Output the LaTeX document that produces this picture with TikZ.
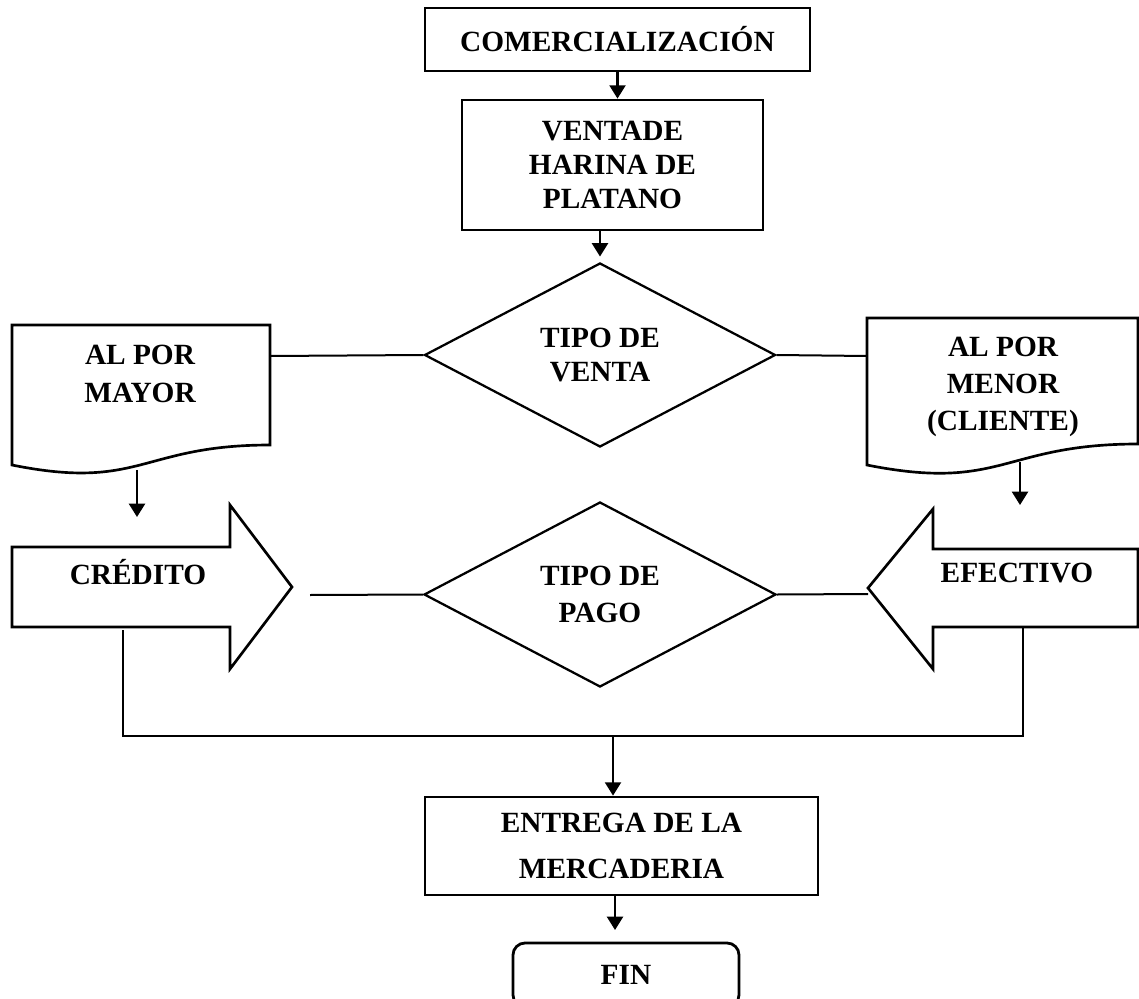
\documentclass[tikz,border=0pt]{standalone}
\usepackage{fontspec}
\setmainfont{Liberation Serif}
\usetikzlibrary{shapes.geometric,arrows.meta}
\begin{document}
\begin{tikzpicture}[x=0.75pt,y=-0.75pt,
  every node/.style={font=\bfseries\fontsize{22}{28}\selectfont, align=center},
  caja/.style={draw, line width=2.1pt, inner sep=0pt},
  rombo/.style={diamond, draw, line width=1.7pt, inner sep=0pt},
  forma/.style={draw, line width=2pt, line join=miter},
  flecha/.style={line width=1.7pt, -{Triangle[width=12pt,length=10pt]}},
  linea/.style={line width=1.5pt}]
\useasboundingbox (0,0) rectangle (1139,999);

% cajas y rombos
\node[caja, minimum width=288.75pt, minimum height=47.25pt] (com) at (617.5,39.5) {COMERCIALIZACIÓN};
\node[caja, minimum width=225.75pt, minimum height=97.5pt,
      font=\bfseries\fontsize{22}{25.5}\selectfont] (venta) at (612.5,165) {VENTADE\\HARINA DE\\PLATANO};
\node[rombo, minimum width=263.25pt, minimum height=138pt,
      font=\bfseries\fontsize{22}{25.5}\selectfont] (tventa) at (600,355) {TIPO DE\\VENTA};
\node[rombo, minimum width=264pt, minimum height=138.75pt] (tpago) at (600,594.5) {TIPO DE\\PAGO};
\node[caja, minimum width=294.75pt, minimum height=73.5pt,
      font=\bfseries\fontsize{22}{35}\selectfont] (entrega) at (621.5,846) {ENTREGA DE LA\\MERCADERIA};
\node[caja, rounded corners=9pt, minimum width=169.5pt, minimum height=48pt] (fin) at (626,975) {FIN};

% documentos
\draw[forma] (12,325) -- (270,325) -- (270,445) .. controls (141,445) and (141,491) .. (12,465) -- cycle;
\node (mayor) at (140,374) {AL POR\\MAYOR};
\draw[forma] (867,318) -- (1138,318) -- (1138,444) .. controls (1002.5,444) and (1002.5,492) .. (867,465) -- cycle;
\node (menor) at (1003,387) {AL POR\\MENOR\\(CLIENTE)};

% flechas de bloque
\draw[forma] (12,547) -- (230,547) -- (230,505) -- (292,587) -- (230,669) -- (230,627) -- (12,627) -- cycle;
\node (credito) at (138,572) {CRÉDITO};
\draw[forma] (1138,549) -- (933,549) -- (933,509) -- (868,588) -- (933,669) -- (933,627) -- (1138,627) -- cycle;
\node (efectivo) at (1017,573) {EFECTIVO};

\coordinate (mayorder) at (270,356);
\coordinate (menorizq) at (867,356);
\coordinate (mayorsal) at (137,470);
\coordinate (mayorfin) at (137,517);
\coordinate (menorsal) at (1020,462);
\coordinate (menorfin) at (1020,505);
\coordinate (creditofin) at (310,595);
\coordinate (efectivopunta) at (868,594);
\coordinate (creditobase) at (123,630);
\coordinate (efectivobase) at (1023,627);
\coordinate (union) at (613,736);
\coordinate (llegada) at (615,930);

% conectores
\draw[flecha] (com.south) -- (com.south |- venta.north);
\draw[flecha] (venta.south -| tventa.north) -- ([yshift=4pt]tventa.north);
\draw[linea] (mayorder) -- (tventa.west);
\draw[linea] (tventa.east) -- (menorizq);
\draw[flecha] (mayorsal) -- (mayorfin);
\draw[flecha] (menorsal) -- (menorfin);
\draw[linea] (creditofin) -- (tpago.west);
\draw[linea] (tpago.east) -- (efectivopunta);
\draw[linea] (creditobase) -- (creditobase |- union) -- (efectivobase |- union) -- (efectivobase);
\draw[flecha] (union) -- (union |- entrega.north);
\draw[flecha] (entrega.south -| llegada) -- (llegada);
\end{tikzpicture}
\end{document}
